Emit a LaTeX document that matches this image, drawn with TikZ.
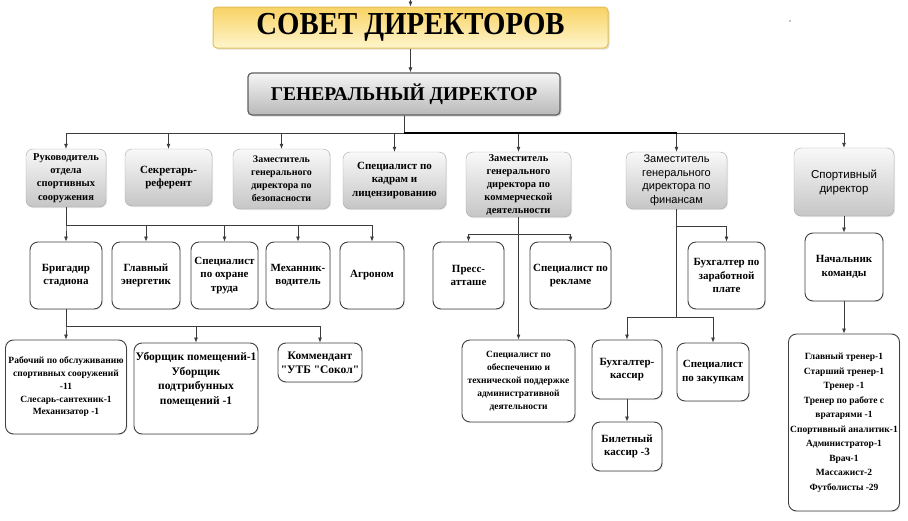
\documentclass[tikz,border=0pt]{standalone}
\usepackage{fontspec}
\setmainfont{Liberation Serif}
\newfontfamily\finfont{Liberation Sans}
\newfontfamily\titlefont[FakeStretch=0.9]{Liberation Serif}
\usetikzlibrary{arrows.meta,shadows}
\definecolor{gold}{RGB}{248,210,100}
\definecolor{paleyellow}{RGB}{255,246,205}
\definecolor{goldline}{RGB}{228,190,86}
\definecolor{lineg}{RGB}{60,60,60}

\begin{document}
\begin{tikzpicture}
  [x=1pt,y=-1pt,
   every node/.style={align=center,inner sep=1pt,font=\bfseries\fontsize{11}{13.5}\selectfont},
   sovetbox/.style={draw=goldline,line width=1pt,rounded corners=4pt,top color=gold,bottom color=paleyellow,
     drop shadow={opacity=0.25,shadow xshift=1.5pt,shadow yshift=-1.5pt}},
   genbox/.style={draw=gray!75!black,line width=1.2pt,rounded corners=4pt,top color=gray!8,bottom color=gray!55,
     drop shadow={opacity=0.3,shadow xshift=1.5pt,shadow yshift=-1.5pt}},
   grey/.style={draw=gray!70,rounded corners=7pt,top color=gray!5,bottom color=gray!45,
     drop shadow={opacity=0.2,shadow xshift=1pt,shadow yshift=-1pt}},
   wbox/.style={draw=black!75,line width=0.9pt,rounded corners=8pt,fill=white,
     drop shadow={opacity=0.15,shadow xshift=1pt,shadow yshift=-1pt}},
   sz/.style 2 args={minimum width=#1pt,minimum height=#2pt},
   arr/.style={draw=lineg,line width=0.7pt,-{Latex[length=5pt,width=4pt]}},
   line/.style={draw=lineg,line width=0.7pt}]
  \useasboundingbox (0,0) rectangle (908,520);

  % top of the chart
  \node[sovetbox,sz={395}{41},font=\titlefont\bfseries\fontsize{32}{36}\selectfont] (sovet) at (410.5,27.5) {СОВЕТ ДИРЕКТОРОВ};
  \node[genbox,sz={312}{42},font=\bfseries\fontsize{19.5}{22}\selectfont] (gen) at (404,94) {ГЕНЕРАЛЬНЫЙ ДИРЕКТОР};
  \coordinate (in) at (410.5,0);
  \fill (790,21) circle (0.7);

  % first row
  \node[grey,sz={80}{58},font=\bfseries\fontsize{10.5}{13.3}\selectfont] (r1) at (66,178) {Руководитель\\отдела\\спортивных\\сооружения};
  \node[grey,sz={87}{57}] (r2) at (168.5,177.5) {Секретарь-\\референт};
  \node[grey,sz={97}{60},font=\bfseries\fontsize{10}{13}\selectfont] (r3) at (281.5,179) {Заместитель\\генерального\\директора по\\безопасности};
  \node[grey,sz={103}{57}] (r4) at (394.5,180.5) {Специалист по\\кадрам и\\лицензированию};
  \node[grey,sz={105}{65},font=\bfseries\fontsize{10.5}{13}\selectfont] (r5) at (518.5,184.5) {Заместитель\\генерального\\директора по\\коммерческой\\деятельности};
  \node[grey,sz={101}{57},font=\finfont\fontsize{11}{13.5}\selectfont] (r6) at (676.5,180.5) {Заместитель\\генерального\\директора по\\финансам};
  \node[grey,sz={100}{68},font=\finfont\fontsize{11.5}{14}\selectfont] (r7) at (844,182) {Спортивный\\директор};

  % second row
  \node[wbox,sz={72}{67}] (b1) at (66,275.5) {Бригадир\\стадиона};
  \node[wbox,sz={68}{67}] (b2) at (146,275.5) {Главный\\энергетик};
  \node[wbox,sz={67}{67}] (b3) at (224.5,275.5) {Специалист\\по охране\\труда};
  \node[wbox,sz={64}{67}] (b4) at (298,275.5) {Механник-\\водитель};
  \node[wbox,sz={64}{67}] (b5) at (372,275.5) {Агроном};
  \node[wbox,sz={71}{67}] (p1) at (468.5,275.5) {Пресс-\\атташе};
  \node[wbox,sz={81}{67}] (p2) at (570.5,275.5) {Специалист по\\рекламе};
  \node[wbox,sz={77}{67}] (f1) at (726.5,275.5) {Бухгалтер по\\заработной\\плате};
  \node[wbox,sz={78}{68}] (s1) at (844,267) {Начальник\\команды};

  % third row
  \node[wbox,sz={121}{94},font=\bfseries\fontsize{9.5}{12.8}\selectfont] (c1) at (66,387) {Рабочий по обслуживанию\\спортивных сооружений\\-11\\Слесарь-сантехник-1\\Механизатор -1};
  \node[wbox,sz={124}{91},font=\bfseries\fontsize{11.5}{14.5}\selectfont] (c2) at (196,388.5) {Уборщик помещений-1\\Уборщик\\подтрибунных\\помещений -1\\[6pt]};
  \node[wbox,sz={84}{39},font=\bfseries\fontsize{11.5}{14}\selectfont] (c3) at (320,362.5) {Коммендант\\\textquotedbl УТБ \textquotedbl Сокол\textquotedbl};
  \node[wbox,sz={113}{82},font=\bfseries\fontsize{9.5}{13}\selectfont] (p3) at (518.5,381) {Специалист по\\обеспечению и\\технической поддержке\\административной\\деятельности};
  \node[wbox,sz={70}{59}] (f2) at (627,369.5) {Бухгалтер-\\кассир};
  \node[wbox,sz={72}{58}] (f3) at (713,372) {Специалист\\по закупкам};
  \node[wbox,sz={70}{49}] (f4) at (627,446.5) {Билетный\\кассир -3};
  \node[wbox,sz={111}{177},font=\bfseries\fontsize{9.5}{14.5}\selectfont] (s2) at (844,422.5) {Главный тренер-1\\Старший тренер-1\\Тренер -1\\Тренер по работе с\\вратарями -1\\Спортивный аналитик-1\\Администратор-1\\Врач-1\\Массажист-2\\Футболисты -29};

  % connectors
  \coordinate (bus1) at (404,133);
  \coordinate (bus2) at (66,225);
  \coordinate (bus3) at (66,326);
  \coordinate (bus4) at (518.5,234);
  \coordinate (bus5) at (676.5,226);
  \coordinate (bus6) at (676.5,317);

  \draw[arr] (in) -- (sovet);
  \draw[arr] (sovet) -- (sovet |- gen.north);
  \foreach \to in {r1,r2,r3,r4,r5,r6,r7}
    \draw[arr] (gen) -- (bus1) -| (\to.north);
  \draw[line width=1.4pt] (bus1) -- (bus1 -| r6);

  \foreach \to in {b1,b2,b3,b4,b5}
    \draw[arr] (r1) -- (bus2) -| (\to.north);
  \foreach \to in {c1,c2,c3}
    \draw[arr] (b1) -- (bus3) -| (\to.north);

  \draw[arr] (r5) -- (p3);
  \foreach \to in {p1,p2}
    \draw[arr] (bus4) -| (\to.north);

  \draw[line] (r6) -- (bus6);
  \draw[arr] (bus5) -| (f1.north);
  \foreach \to in {f2,f3}
    \draw[arr] (bus6) -| (\to.north);
  \draw[arr] (f2) -- (f4);

  \draw[arr] (r7) -- (s1);
  \draw[arr] (s1) -- (s2);
\end{tikzpicture}
\end{document}
